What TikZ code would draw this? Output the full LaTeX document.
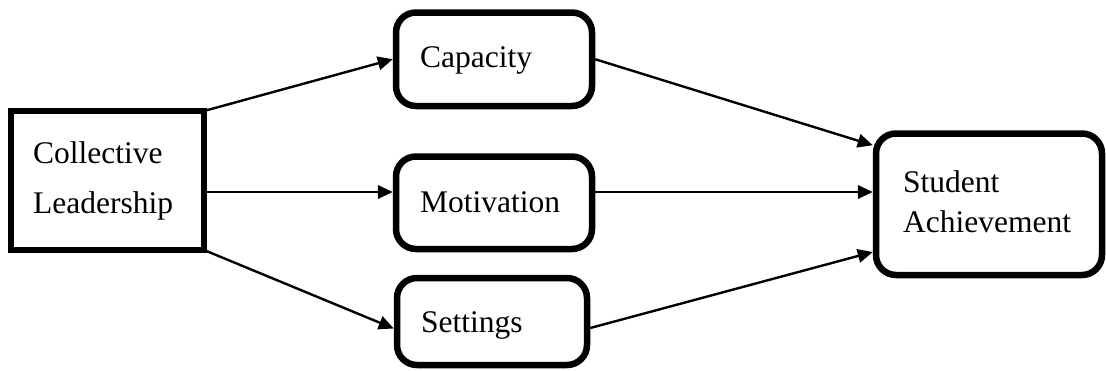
\documentclass[tikz,border=0pt]{standalone}
\usepackage{fontspec}
\setmainfont{Liberation Serif}
\usetikzlibrary{arrows.meta}
\begin{document}
\begin{tikzpicture}[x=1pt,y=-1pt,
  box/.style={draw=black,line width=6.5pt,inner sep=0pt,minimum width=#1},
  sqbox/.style={box=#1,outer sep=0pt},
  rbox/.style={box=#1,rounded corners=20pt},
  lbl/.style={anchor=base west,inner sep=0pt,font=\fontsize{31.5pt}{38pt}\selectfont},
  arr/.style={line width=2.4pt,-{Triangle[length=15pt,width=13.5pt]}}]
\useasboundingbox (0,0) rectangle (1106,370);
% boxes
\node[sqbox=193pt,minimum height=139pt] (coll) at (107.5,180.5) {};
\node[rbox=196pt,minimum height=93.5pt] (cap) at (494,59.25) {};
\node[rbox=196pt,minimum height=92.5pt] (mot) at (494,202.75) {};
\node[rbox=190pt,minimum height=87pt] (set) at (492,321.5) {};
\node[rbox=226pt,minimum height=141.5pt] (stu) at (989,204.25) {};
% texts
\node[lbl] (t1) at (33,163) {Collective};
\node[lbl] (t2) at (33,213) {Leadership};
\node[lbl] (t3) at (420,67) {Capacity};
\node[lbl] (t4) at (420,212) {Motivation};
\node[lbl] (t5) at (421,332) {Settings};
\node[lbl] (t6) at (903,192) {Student};
\node[lbl] (t7) at (903,232) {Achievement};
% connectors
\draw[arr] (coll.north east) -- (cap.west);
\draw[arr] ([yshift=-11.5pt]coll.east) -- ([yshift=10.75pt]mot.west);
\draw[arr] (coll.south east) -- ([yshift=-7pt]set.west);
\draw[arr] (cap.east) -- ([yshift=59pt]stu.west);
\draw[arr] ([yshift=10.75pt]mot.east) -- ([yshift=12.25pt]stu.west);
\draw[arr] ([yshift=-6.5pt]set.east) -- ([yshift=-47.75pt]stu.west);
\end{tikzpicture}
\end{document}
